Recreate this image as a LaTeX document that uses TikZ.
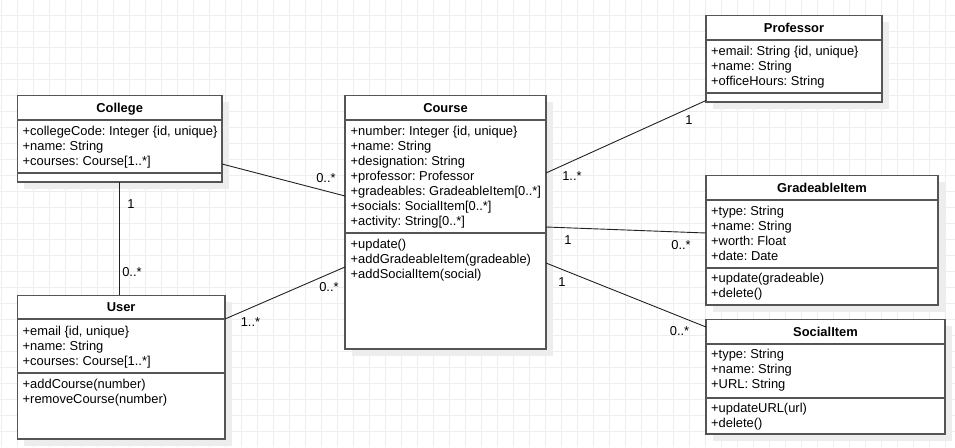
\documentclass[tikz,border=0pt]{standalone}
\usepackage{fontspec}
\setmainfont{Liberation Sans}
\usetikzlibrary{fit,calc}
\frenchspacing
\definecolor{bordc}{HTML}{555555}
\definecolor{gridc}{HTML}{EEEEEE}
\definecolor{shadc}{HTML}{EDEDED}
\definecolor{linec}{HTML}{222222}
\newcommand\fs{\fontsize{12.9}{15}\selectfont\frenchspacing}
\tikzset{
  box/.style={draw=bordc, line width=1.3pt, fill=white, inner sep=0pt, outer sep=0pt},
  sepline/.style={draw=bordc, line width=1.3pt},
  gridline/.style={draw=gridc, line width=1pt},
  txt/.style={anchor=base west, inner sep=0pt, font=\fs},
  hdr/.style={anchor=base, inner sep=0pt, font=\fs\bfseries},
  lbl/.style={anchor=base, inner sep=0pt, font=\fs},
  conn/.style={draw=linec, line width=0.9pt},
}
% name, L, T, R, B, H, A, title
\newcommand\umlclass[8]{%
  \fill[shadc] (#2+7,#3+6.5) rectangle (#4+7,#5+6.5);
  \node[box, fit={(#2,#3) (#4,#5)}] (#1) {};
  \draw[sepline] (#1.west |- 0,#6) -- (#1.east |- 0,#6);
  \draw[sepline] (#1.west |- 0,#7) -- (#1.east |- 0,#7);
  \node[hdr] (#1-title) at ({(#2+#4)/2},{(#3+#6)/2+4.6}) {#8};
}
\begin{document}
\begin{tikzpicture}[x=1pt,y=-1pt]
\useasboundingbox (0,0) rectangle (955,447);
\fill[white] (0,0) rectangle (955,447);
\foreach \x in {1.3,17.3,...,955} \draw[gridline] (\x,0) -- (\x,447);
\foreach \y in {15.3,31.3,...,447} \draw[gridline] (0,\y) -- (955,\y);

\umlclass{college}{17.3}{95.3}{222}{182}{120}{173}{College}
\foreach \t [count=\i] in {{+collegeCode: Integer \{id, unique\}},{+name: String},{+courses: Course[1..*]}}
  \node[txt] (college-a\i) at (22.5,{130.8+4.5+15*(\i-1)}) {\t};

\umlclass{user}{17.3}{295.3}{225}{439}{319}{373}{User}
\foreach \t [count=\i] in {{+email \{id, unique\}},{+name: String},{+courses: Course[1..*]}}
  \node[txt] (user-a\i) at (22.5,{330.8+4.5+15*(\i-1)}) {\t};
\foreach \t [count=\i] in {{+addCourse(number)},{+removeCourse(number)}}
  \node[txt] (user-m\i) at (22.5,{384+4.5+15*(\i-1)}) {\t};

\umlclass{course}{345}{95.3}{546}{349}{120}{233}{Course}
\foreach \t [count=\i] in {{+number: Integer \{id, unique\}},{+name: String},{+designation: String},{+professor: Professor},{+gradeables: GradeableItem[0..*]},{+socials: SocialItem[0..*]},{+activity: String[0..*]}}
  \node[txt] (course-a\i) at (350.5,{131+4.5+15*(\i-1)}) {\t};
\foreach \t [count=\i] in {{+update()},{+addGradeableItem(gradeable)},{+addSocialItem(social)}}
  \node[txt] (course-m\i) at (350.5,{244+4.5+15*(\i-1)}) {\t};

\umlclass{prof}{706}{15.3}{882}{102}{40}{93}{Professor}
\foreach \t [count=\i] in {{+email: String \{id, unique\}},{+name: String},{+officeHours: String}}
  \node[txt] (prof-a\i) at (711,{51+4.5+15*(\i-1)}) {\t};

\umlclass{grade}{706}{175.3}{938}{305}{200}{268}{GradeableItem}
\foreach \t [count=\i] in {{+type: String},{+name: String},{+worth: Float},{+date: Date}}
  \node[txt] (grade-a\i) at (711,{211+4.5+15*(\i-1)}) {\t};
\foreach \t [count=\i] in {{+update(gradeable)},{+delete()}}
  \node[txt] (grade-m\i) at (711,{278.3+4.5+15*(\i-1)}) {\t};

\umlclass{social}{706}{319.3}{945}{434}{344}{398}{SocialItem}
\foreach \t [count=\i] in {{+type: String},{+name: String},{+URL: String}}
  \node[txt] (social-a\i) at (711,{354.3+4.5+15*(\i-1)}) {\t};
\foreach \t [count=\i] in {{+updateURL(url)},{+delete()}}
  \node[txt] (social-m\i) at (711,{408.3+4.5+15*(\i-1)}) {\t};

% connectors
\draw[conn] (college.east |- 0,164) -- (course.west |- 0,196);
\draw[conn] (college.south -| 119.5,0) -- (user.north -| 119.5,0);
\draw[conn] (user.east |- 0,319) -- (course.west |- 0,267);
\draw[conn] (course.east |- 0,173) -- (prof.west |- 0,100.5);
\draw[conn] (course.east |- 0,227) -- (grade.west |- 0,233);
\draw[conn] (course.east |- 0,263) -- (social.west |- 0,327);

% multiplicities
\node[lbl] (l1) at (326,{177.5+4.6}) {0..*};
\node[lbl] (l2) at (131,{203.5+4.6}) {1};
\node[lbl] (l3) at (132,{271.7+4.6}) {0..*};
\node[lbl] (l4) at (250.5,{321.7+4.6}) {1..*};
\node[lbl] (l5) at (329,{287.3+4.6}) {0..*};
\node[lbl] (l6) at (689,{120+4.6}) {1};
\node[lbl] (l7) at (572,{175.5+4.6}) {1..*};
\node[lbl] (l8) at (568,{240+4.6}) {1};
\node[lbl] (l9) at (681,{245+4.6}) {0..*};
\node[lbl] (l10) at (562,{281.7+4.6}) {1};
\node[lbl] (l11) at (679.5,{330.7+4.6}) {0..*};
\end{tikzpicture}
\end{document}
